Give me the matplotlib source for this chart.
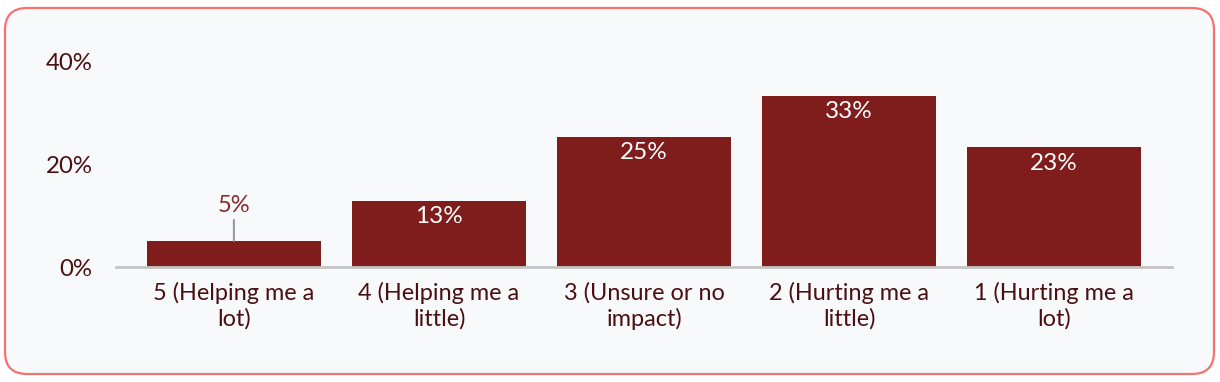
import matplotlib
matplotlib.use("Agg")
import matplotlib.pyplot as plt
from matplotlib.patches import FancyBboxPatch
from matplotlib.transforms import IdentityTransform

categories = ["5 (Helping me a\nlot)", "4 (Helping me a\nlittle)", "3 (Unsure or no\nimpact)",
              "2 (Hurting me a\nlittle)", "1 (Hurting me a\nlot)"]
values = [5.1, 12.9, 25.4, 33.4, 23.4]
yticks = [0, 20, 40]

bar_color = "#7f1d1d"
text_color = "#4a0f12"

plt.rcParams["font.family"] = ["Lato", "DejaVu Sans"]

fig = plt.figure(figsize=(12.2, 3.82), dpi=100, facecolor="white")

# rounded frame behind the chart
frame = FancyBboxPatch((5, 8), 1209, 366, boxstyle="round,pad=0,rounding_size=22",
                       transform=IdentityTransform(), facecolor="#f8f9fb",
                       edgecolor="#f87171", linewidth=1.6, zorder=-5)
fig.patches.append(frame)

ax = fig.add_axes([116 / 1220, 115 / 382, 1056 / 1220, 205 / 382])
ax.set_facecolor("none")
ax.set_zorder(1)

x = range(len(categories))
bars = ax.bar(x, values, width=0.85, color=bar_color, zorder=2)

ax.set_ylim(0, 40)
ax.set_xlim(-0.575, len(categories) - 0.425)
ax.set_yticks(yticks)
ax.set_yticklabels([f"{v}%" for v in yticks])
ax.set_xticks(list(x))
ax.set_xticklabels(categories, linespacing=1.2)
ax.tick_params(axis="y", length=0, pad=17, labelsize=17.3, labelcolor=text_color)
ax.tick_params(axis="x", length=0, pad=11, labelsize=16.9, labelcolor=text_color)

for side in ["top", "right", "left"]:
    ax.spines[side].set_visible(False)
ax.spines["bottom"].set_color("#c4c4c4")
ax.spines["bottom"].set_linewidth(2)
ax.spines["bottom"].set_zorder(3)

for rect, v in zip(bars, values):
    cx = rect.get_x() + rect.get_width() / 2
    label = f"{round(v)}%"
    if v < 8:
        ax.annotate(label, xy=(cx, v), xytext=(0, 21), textcoords="offset points",
                    ha="center", va="baseline", fontsize=17, color="#8b2a2a",
                    arrowprops=dict(arrowstyle="-", color="#999999", lw=1.5,
                                    shrinkA=1, shrinkB=0))
    else:
        ax.annotate(label, xy=(cx, v), xytext=(0, -4), textcoords="offset points",
                    ha="center", va="top", fontsize=17.5, color="white")

fig.savefig("out.png", dpi=100, facecolor="white")
